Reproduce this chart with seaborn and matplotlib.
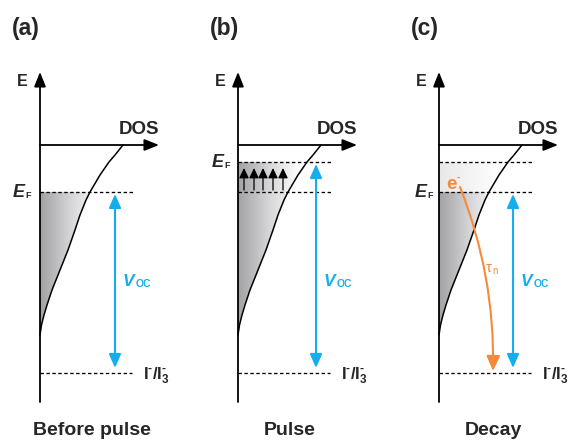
import numpy as np
import matplotlib
matplotlib.use("Agg")
import matplotlib.pyplot as plt
import seaborn as sns
import pandas as pd
from matplotlib.patches import Polygon, ArrowStyle
from matplotlib.colors import LinearSegmentedColormap

# ---- diagram data (page units, energy axis drawn top = high energy) ----
panel_tags = ["(a)", "(b)", "(c)"]
panel_titles = ["Before pulse", "Pulse", "Decay"]
origin_x = [40, 238, 439]            # position of each energy axis
fermi_level = [192, 162, 192]        # quasi-Fermi level E_F
second_level = [None, 192, 162]      # extra dashed level (before / after pulse)
redox_level = 373                    # I-/I3- redox potential
band_edge = 145                      # DOS axis
axis_top, axis_bottom = 72, 402

# trap-state DOS tail: energy vs. density (read as pairs)
tail_energy = [145, 155, 162, 175, 192, 200, 215, 230, 250, 270, 290, 305, 315, 325, 335]
tail_dos    = [83, 75, 69, 60, 50, 46, 40, 35, 28, 20, 12, 7, 4, 1.5, 0]

BLUE = "#14aeec"
ORANGE = "#f58a3c"

sns.set_style("white")
plt.rcParams["font.family"] = ["Liberation Sans", "DejaVu Sans"]
plt.rcParams["mathtext.fontset"] = "custom"
plt.rcParams["mathtext.rm"] = "Liberation Sans:bold"
plt.rcParams["mathtext.bf"] = "Liberation Sans:bold"
plt.rcParams["mathtext.it"] = "Liberation Sans:italic:bold"

fig = plt.figure(figsize=(5.73, 4.42), dpi=100)
ax = fig.add_axes([0, 0, 1, 1])
ax.set_xlim(0, 573)
ax.set_ylim(442, 0)
ax.axis("off")

gray_cmap = LinearSegmentedColormap.from_list("tail", ["#a2a2a4", "#d6d6d8", "#ffffff"])
pale_cmap = LinearSegmentedColormap.from_list("pale", ["#e8e8ea", "#ffffff"])
grad = np.linspace(0, 1, 256)[None, :]

axis_head = ArrowStyle("-|>", head_length=0.55, head_width=0.22)
volt_head = ArrowStyle("<|-|>", head_length=0.55, head_width=0.24)
pump_head = ArrowStyle("-|>", head_length=0.5, head_width=0.24)
decay_head = ArrowStyle("-|>", head_length=0.6, head_width=0.27)

tail_e = np.array(tail_energy, float)
tail_d = np.array(tail_dos, float)


def shade(x0, top, bottom, cmap, width=62):
    """Fill the DOS tail between energies top..bottom with a horizontal gradient."""
    keep = (tail_e >= top) & (tail_e <= bottom)
    ys = np.concatenate([[top], tail_e[keep], [bottom]])
    xs = x0 + np.interp(ys, tail_e, tail_d)
    verts = [(x0, top)] + list(zip(xs, ys)) + [(x0, bottom)]
    poly = Polygon(verts, closed=True, facecolor="none", edgecolor="none")
    ax.add_patch(poly)
    im = ax.imshow(grad, extent=(x0, x0 + width, bottom, top), cmap=cmap,
                   aspect="auto", interpolation="bilinear", zorder=1)
    im.set_clip_path(poly)


def dashed(x0, y, length=93):
    ax.plot([x0, x0 + length], [y, y], color="black", lw=0.95,
            dashes=(2.6, 1.9), zorder=3)


for i, x0 in enumerate(origin_x):
    # shaded occupied trap states
    if i == 2:
        shade(x0, second_level[i], fermi_level[i], pale_cmap)
    shade(x0, fermi_level[i], tail_energy[-1], gray_cmap)

    # DOS tail curve
    curve = pd.DataFrame({"dos": x0 + tail_d, "E": tail_e})
    sns.lineplot(data=curve, x="dos", y="E", sort=False, estimator=None,
                 color="black", lw=1.1, ax=ax, zorder=4)

    # energy axis and DOS axis
    ax.annotate("", xy=(x0, axis_top), xytext=(x0, axis_bottom),
                arrowprops=dict(arrowstyle=axis_head, color="black", lw=1.3,
                                mutation_scale=16, shrinkA=0, shrinkB=0), zorder=5)
    ax.annotate("", xy=(x0 + 119, band_edge), xytext=(x0, band_edge),
                arrowprops=dict(arrowstyle=axis_head, color="black", lw=1.3,
                                mutation_scale=16, shrinkA=0, shrinkB=0), zorder=5)

    # energy levels
    dashed(x0, fermi_level[i])
    if second_level[i] is not None:
        dashed(x0, second_level[i])
    dashed(x0, redox_level, 92)

    # open-circuit voltage arrow
    vx = [115, 316, 513][i]
    ax.annotate("", xy=(vx, redox_level - 5), xytext=(vx, fermi_level[i] + 2),
                arrowprops=dict(arrowstyle=volt_head, color=BLUE, lw=1.5,
                                mutation_scale=15, shrinkA=0, shrinkB=0), zorder=5)

    # labels
    ax.text(x0 - 28, 28, panel_tags[i], fontsize=16.5, fontweight="bold",
            ha="left", va="center")
    ax.text(x0 - 23, 82, "E", fontsize=11.5, fontweight="bold", ha="left", va="center")
    ax.text(x0 + 99, 130, "DOS", fontsize=13.5, fontweight="bold", ha="center", va="center")
    ax.text([92, 290, 493][i], 435, panel_titles[i], fontsize=14, fontweight="bold",
            ha="center", va="baseline")

    ef = ax.text([13, 212, 415][i], fermi_level[i] + 5, "E", fontsize=13,
                 fontweight="bold", style="italic", ha="left", va="baseline")
    ax.annotate("F", xy=(1, 0), xycoords=ef, xytext=(0.3, 0.5), textcoords="offset points",
                fontsize=6.5, fontweight="bold", ha="left", va="bottom")

    v = ax.text(vx + 8, 286, "V", fontsize=12.5, fontweight="bold", style="italic",
                color=BLUE, ha="left", va="baseline")
    ax.annotate("OC", xy=(1, 0), xycoords=v, xytext=(0.5, 0), textcoords="offset points",
                fontsize=7.5, fontweight="bold", color=BLUE, ha="left", va="bottom")

    ax.text(x0 + 103, 379, r"I$^{\text{-}}$/I$_{3}^{\text{-}}$", fontsize=12,
            fontweight="bold", ha="left", va="baseline")

# (b) electrons pumped into the band during the light pulse
for px in [244, 254, 263, 273, 283]:
    ax.annotate("", xy=(px, 168), xytext=(px, 190),
                arrowprops=dict(arrowstyle=pump_head, color="black", lw=0.9,
                                mutation_scale=12, shrinkA=0, shrinkB=0), zorder=5)

# (c) recombination of a trapped electron with the electrolyte
ax.annotate("", xy=(493, 371), xytext=(460, 187),
            arrowprops=dict(arrowstyle=decay_head, color=ORANGE, lw=1.5,
                            mutation_scale=15, shrinkA=0, shrinkB=0,
                            connectionstyle="arc3,rad=-0.1"), zorder=6)
e = ax.text(446, 189, "e", fontsize=13.5, fontweight="bold", color=ORANGE,
            ha="left", va="baseline", zorder=7)
ax.annotate("-", xy=(1, 1), xycoords=e, xytext=(0, 2), textcoords="offset points",
            fontsize=7, fontweight="bold", color=ORANGE, ha="left", va="top")
tau = ax.text(486, 272, "\u03c4", fontsize=10.5, color=ORANGE, ha="left", va="baseline")
ax.annotate("n", xy=(1, 0), xycoords=tau, xytext=(0.2, -1), textcoords="offset points",
            fontsize=7, color=ORANGE, ha="left", va="bottom")

fig.savefig("out.png", dpi=100)
